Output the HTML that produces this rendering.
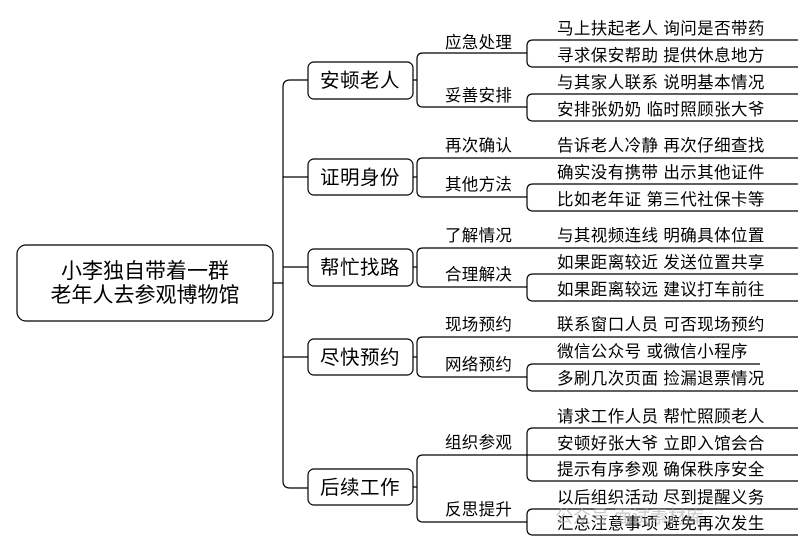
<!DOCTYPE html>
<html><head><meta charset="utf-8"><style>
html,body{margin:0;padding:0;background:#fff;}
svg{display:block;}
text{font-family:"Liberation Sans","Noto Sans CJK SC",sans-serif;fill:#000;}
.l{font-size:16.5px;letter-spacing:0.4px;}
.m{font-size:16.5px;letter-spacing:0.3px;}
.b{font-size:19.5px;letter-spacing:0.5px;}
.r{font-size:21px;}
</style></head><body>
<svg width="798" height="551" viewBox="0 0 798 551" xmlns="http://www.w3.org/2000/svg">
<g fill="none" stroke="#000" stroke-width="1.2">
<rect x="17" y="245" width="256" height="76" rx="9"/>
<path d="M273,283 H283 M308,80 H290 Q283,80 283,87 V481 Q283,488 290,488 H308 M283,177 H308 M283,267 H308 M283,357 H308"/>
<rect x="308" y="62" width="105" height="37" rx="6"/>
<rect x="308" y="159" width="105" height="36" rx="6"/>
<rect x="308" y="249" width="105" height="37" rx="6"/>
<rect x="308" y="339" width="105" height="36" rx="6"/>
<rect x="308" y="469" width="105" height="36" rx="6"/>
<path d="M413,80 H417 M527,53 H423 Q417,53 417,59 V101 Q417,107 423,107 H527"/>
<path d="M798,40 H533 Q527,40 527,46 V61 Q527,67 533,67 H798"/>
<path d="M798,94 H533 Q527,94 527,100 V115 Q527,121 533,121 H798"/>
<path d="M413,177 H417 M798,158 H423 Q417,158 417,164 V191 Q417,197 423,197 H527"/>
<path d="M798,184 H533 Q527,184 527,190 V205 Q527,211 533,211 H798"/>
<path d="M413,267 H417 M798,248 H423 Q417,248 417,254 V281 Q417,287 423,287 H527"/>
<path d="M798,274 H533 Q527,274 527,280 V295 Q527,301 533,301 H798"/>
<path d="M413,357 H417 M798,337 H423 Q417,337 417,343 V371 Q417,377 423,377 H527"/>
<path d="M760,364 H533 Q527,364 527,370 V385 Q527,391 533,391 H798"/>
<path d="M413,487 H417 M527,455 H423 Q417,455 417,461 V516 Q417,522 423,522 H527"/>
<path d="M798,428 H533 Q527,428 527,434 V475 Q527,481 533,481 H798 M527,455 H798"/>
<path d="M798,509 H533 Q527,509 527,515 V529 Q527,535 533,535 H798"/>
</g>
<text class="r" x="145" y="278" text-anchor="middle">小李独自带着一群</text>
<text class="r" x="145" y="302" text-anchor="middle">老年人去参观博物馆</text>
<text class="b" x="360" y="87" text-anchor="middle">安顿老人</text>
<text class="b" x="360" y="184" text-anchor="middle">证明身份</text>
<text class="b" x="360" y="274" text-anchor="middle">帮忙找路</text>
<text class="b" x="360" y="364" text-anchor="middle">尽快预约</text>
<text class="b" x="360" y="494" text-anchor="middle">后续工作</text>
<g class="m">
<text x="445" y="48">应急处理</text>
<text x="445" y="101">妥善安排</text>
<text x="445" y="151">再次确认</text>
<text x="445" y="190">其他方法</text>
<text x="445" y="241">了解情况</text>
<text x="445" y="280">合理解决</text>
<text x="445" y="330">现场预约</text>
<text x="445" y="370">网络预约</text>
<text x="445" y="448">组织参观</text>
<text x="445" y="515">反思提升</text>
</g>
<g class="l">
<text x="557" y="34">马上扶起老人 询问是否带药</text>
<text x="557" y="61">寻求保安帮助 提供休息地方</text>
<text x="557" y="88">与其家人联系 说明基本情况</text>
<text x="557" y="115">安排张奶奶 临时照顾张大爷</text>
<text x="557" y="151">告诉老人冷静 再次仔细查找</text>
<text x="557" y="178">确实没有携带 出示其他证件</text>
<text x="557" y="205">比如老年证 第三代社保卡等</text>
<text x="557" y="241">与其视频连线 明确具体位置</text>
<text x="557" y="268">如果距离较近 发送位置共享</text>
<text x="557" y="295">如果距离较远 建议打车前往</text>
<text x="557" y="330">联系窗口人员 可否现场预约</text>
<text x="557" y="357">微信公众号 或微信小程序</text>
<text x="557" y="384">多刷几次页面 捡漏退票情况</text>
<text x="557" y="422">请求工作人员 帮忙照顾老人</text>
<text x="557" y="449">安顿好张大爷 立即入馆会合</text>
<text x="557" y="475">提示有序参观 确保秩序安全</text>
<text x="557" y="503">以后组织活动 尽到提醒义务</text>
<text x="557" y="529">汇总注意事项 避免再次发生</text>
</g>
<text x="555" y="523" style="font-size:18px;fill:#aaa;opacity:0.6">公众号 面试素材库</text>
</svg>
</body></html>
